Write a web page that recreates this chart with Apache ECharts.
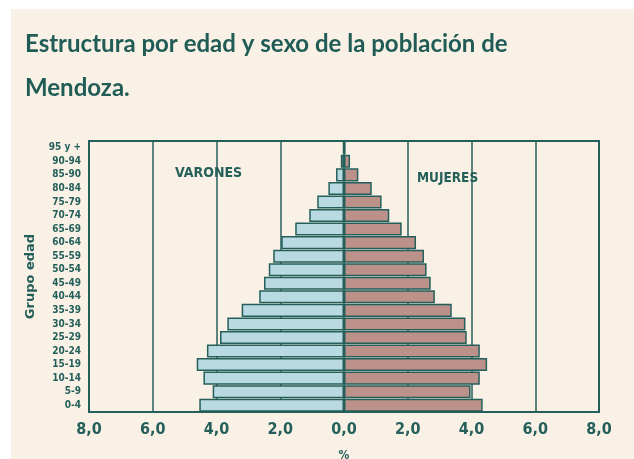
<!DOCTYPE html>
<html><head><meta charset="utf-8">
<script src="https://cdn.jsdelivr.net/npm/echarts@6/dist/echarts.min.js"></script>
<style>html,body{margin:0;padding:0;background:#fff}#c{width:634px;height:459px}</style>
</head><body><div id="c"></div>
<script>
const ageGroups = ['0-4','5-9','10-14','15-19','20-24','25-29','30-34','35-39','40-44','45-49','50-54','55-59','60-64','65-69','70-74','75-79','80-84','85-90','90-94','95 y +'];
const varones = [4.54,4.12,4.41,4.62,4.30,3.89,3.66,3.21,2.66,2.51,2.36,2.22,1.97,1.53,1.09,0.84,0.49,0.25,0.10,0.03];
const mujeres = [4.35,3.97,4.26,4.49,4.26,3.85,3.81,3.38,2.85,2.72,2.59,2.51,2.26,1.81,1.42,1.18,0.87,0.45,0.19,0.05];
const xTicks = [-8,-6,-4,-2,0,2,4,6,8];

const teal = '#245f5a';
const cond = '"DejaVu Sans Condensed", "DejaVu Sans", sans-serif';
const chart = echarts.init(document.getElementById('c'), null, {renderer:'canvas'});
chart.setOption({
  backgroundColor: 'transparent',
  animation: false,
  graphic: [
    {type:'rect', z:-10, shape:{x:11,y:9,width:623,height:450}, style:{fill:'#f9f1e6'}},
    {type:'text', left:175, top:166, style:{text:'VARONES', font:'bold 14px ' + cond, fill:teal}},
    {type:'text', left:417, top:171, style:{text:'MUJERES', font:'bold 13.5px ' + cond, fill:teal}}
  ],
  title: {
    text: 'Estructura por edad y sexo de la población de\nMendoza.',
    left: 25, top: 22, padding: 0,
    textStyle: {fontFamily:'Lato', fontWeight:'bold', fontSize:24, lineHeight:44, color:'#1f5c55'}
  },
  grid: {left:89, right:35, top:141, bottom:47, show:true, borderColor:teal, borderWidth:2,
         backgroundColor:'transparent', containLabel:false, outerBoundsMode:'none'},
  xAxis: {
    type:'value', min:xTicks[0], max:xTicks[xTicks.length-1], interval:2,
    name:'%', nameLocation:'middle', nameGap:38,
    nameTextStyle:{fontFamily:cond, fontWeight:'bold', fontSize:12, color:teal},
    axisLine:{show:false}, axisTick:{show:false},
    splitLine:{show:true, lineStyle:{color:teal, width:1.5}},
    axisLabel:{margin:10, color:teal, fontFamily:cond, fontWeight:'bold', fontSize:16,
      formatter: v => Math.abs(v).toFixed(1).replace('.', ',')}
  },
  yAxis: {
    type:'category', data: ageGroups,
    name:'Grupo edad', nameLocation:'middle', nameGap:52, nameRotate:90,
    nameTextStyle:{fontFamily:'"DejaVu Sans", sans-serif', fontWeight:'bold', fontSize:13, color:teal},
    axisLine:{show:false, onZero:false}, axisTick:{show:false},
    axisLabel:{margin:8, color:teal, fontFamily:cond, fontWeight:'bold', fontSize:10}
  },
  series: [
    {name:'Varones', type:'bar', stack:'p', barCategoryGap:'4%',
     data: varones.map(v => -v),
     itemStyle:{color:'#b9d9e3', borderColor:teal, borderWidth:1.5}},
    {name:'Mujeres', type:'bar', stack:'p', barCategoryGap:'4%',
     data: mujeres,
     itemStyle:{color:'#bb918a', borderColor:teal, borderWidth:1.5}}
  ]
});
</script>
</body></html>
